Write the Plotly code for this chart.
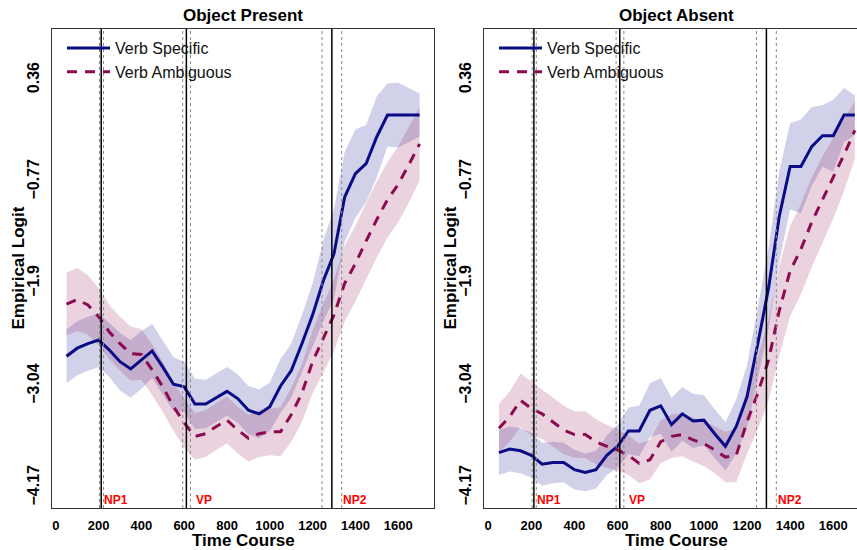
import plotly.graph_objects as go

# ---------------- data ----------------
time_ms = [50, 100, 150, 200, 250, 300, 350, 400, 450, 500, 550, 600, 650, 700, 750, 800, 850,
           900, 950, 1000, 1050, 1100, 1150, 1200, 1250, 1300, 1350, 1400, 1450, 1500, 1550,
           1600, 1650, 1700]

present_specific = [-2.71, -2.62, -2.57, -2.53, -2.64, -2.77, -2.85, -2.75, -2.65, -2.83,
                    -3.02, -3.05, -3.24, -3.24, -3.17, -3.10, -3.18, -3.31, -3.35, -3.27,
                    -3.04, -2.87, -2.57, -2.25, -1.87, -1.57, -0.94, -0.68, -0.57, -0.27,
                    -0.03, -0.03, -0.03, -0.03]
present_specific_ci = [0.30, 0.30, 0.30, 0.30, 0.30, 0.32, 0.32, 0.32, 0.30, 0.30,
                       0.30, 0.28, 0.28, 0.27, 0.27, 0.27, 0.27, 0.27, 0.27, 0.27,
                       0.30, 0.30, 0.32, 0.35, 0.45, 0.50, 0.50, 0.49, 0.43, 0.45,
                       0.35, 0.36, 0.30, 0.24]
present_ambiguous = [-2.13, -2.08, -2.14, -2.27, -2.44, -2.57, -2.68, -2.69, -2.86, -3.05,
                     -3.27, -3.45, -3.60, -3.57, -3.49, -3.42, -3.53, -3.62, -3.57, -3.55,
                     -3.55, -3.36, -3.12, -2.77, -2.51, -2.25, -1.90, -1.68, -1.43, -1.19,
                     -0.97, -0.80, -0.58, -0.35]
present_ambiguous_ci = [0.35, 0.35, 0.33, 0.32, 0.30, 0.30, 0.30, 0.28, 0.28, 0.28,
                        0.27, 0.27, 0.26, 0.26, 0.26, 0.26, 0.26, 0.26, 0.26, 0.26,
                        0.27, 0.30, 0.32, 0.35, 0.38, 0.40, 0.42, 0.42, 0.42, 0.42,
                        0.42, 0.42, 0.42, 0.41]

absent_specific = [-3.78, -3.74, -3.76, -3.81, -3.91, -3.89, -3.89, -3.97, -4.00, -3.97,
                   -3.81, -3.71, -3.54, -3.54, -3.31, -3.26, -3.47, -3.35, -3.43, -3.42,
                   -3.57, -3.71, -3.49, -3.16, -2.57, -1.95, -1.15, -0.60, -0.60, -0.38,
                   -0.26, -0.26, -0.03, -0.03]
absent_specific_ci = [0.25, 0.25, 0.25, 0.25, 0.24, 0.23, 0.22, 0.22, 0.21, 0.21,
                      0.22, 0.24, 0.26, 0.28, 0.30, 0.31, 0.30, 0.30, 0.30, 0.28,
                      0.27, 0.27, 0.30, 0.35, 0.40, 0.45, 0.50, 0.48, 0.52, 0.44,
                      0.34, 0.40, 0.30, 0.22]
absent_ambiguous = [-3.51, -3.38, -3.20, -3.29, -3.35, -3.44, -3.53, -3.58, -3.58, -3.66,
                    -3.71, -3.75, -3.81, -3.90, -3.86, -3.66, -3.60, -3.58, -3.64, -3.68,
                    -3.75, -3.83, -3.81, -3.44, -3.12, -2.75, -2.20, -1.76, -1.52, -1.22,
                    -0.97, -0.73, -0.47, -0.20]
absent_ambiguous_ci = [0.27, 0.28, 0.30, 0.30, 0.28, 0.27, 0.27, 0.26, 0.26, 0.25,
                       0.24, 0.23, 0.22, 0.22, 0.22, 0.24, 0.24, 0.24, 0.24, 0.25,
                       0.26, 0.28, 0.30, 0.35, 0.40, 0.45, 0.50, 0.50, 0.50, 0.50,
                       0.48, 0.45, 0.40, 0.32]

# word onsets (mean and spread) in ms
region_labels = ["NP1", "VP", "NP2"]
onset_mean = [212, 610, 1290]
onset_low = [204, 593, 1244]
onset_high = [223, 629, 1336]
label_x = [215, 645, 1335]

x_ticks = [0, 200, 400, 600, 800, 1000, 1200, 1400, 1600]
y_ticks = [-4.17, -3.04, -1.9, -0.77, 0.36]
y_tick_text = ["\u22124.17", "\u22123.04", "\u22121.9", "\u22120.77", "0.36"]

series_names = ["Verb Specific", "Verb Ambiguous"]
panel_titles = ["Object Present", "Object Absent"]

# ---------------- styles ----------------
FONT = "Liberation Sans, Arial, Helvetica, sans-serif"
BLUE = "#0b0b86"
BLUE_FILL = "rgba(0,0,139,0.18)"
PINK = "#8b0a50"
PINK_FILL = "rgba(139,10,80,0.18)"

fig = go.Figure()

panels = [
    ("x", "y", "legend", present_specific, present_specific_ci, present_ambiguous, present_ambiguous_ci),
    ("x2", "y2", "legend2", absent_specific, absent_specific_ci, absent_ambiguous, absent_ambiguous_ci),
]

for xa, ya, lg, vs, vs_ci, va, va_ci in panels:
    for vals, ci, fill in ((vs, vs_ci, BLUE_FILL), (va, va_ci, PINK_FILL)):
        upper = [v + c for v, c in zip(vals, ci)]
        lower = [v - c for v, c in zip(vals, ci)]
        fig.add_trace(go.Scatter(
            x=time_ms + time_ms[::-1], y=upper + lower[::-1],
            fill="toself", fillcolor=fill, line=dict(width=0), mode="lines",
            hoverinfo="skip", showlegend=False, xaxis=xa, yaxis=ya))
    fig.add_trace(go.Scatter(
        x=time_ms, y=vs, mode="lines", name=series_names[0],
        line=dict(color=BLUE, width=3), xaxis=xa, yaxis=ya, legend=lg))
    fig.add_trace(go.Scatter(
        x=time_ms, y=va, mode="lines", name=series_names[1],
        line=dict(color=PINK, width=3, dash="10px,8px"), xaxis=xa, yaxis=ya, legend=lg))

shapes = []
annotations = []
for xa, ya in (("x", "y"), ("x2", "y2")):
    for m, lo, hi in zip(onset_mean, onset_low, onset_high):
        shapes.append(dict(type="line", xref=xa, yref=ya + " domain", x0=m, x1=m, y0=0, y1=1,
                           line=dict(color="black", width=1.5), layer="above"))
        for d in (lo, hi):
            shapes.append(dict(type="line", xref=xa, yref=ya + " domain", x0=d, x1=d, y0=0, y1=1,
                               line=dict(color="#8a8a8a", width=1, dash="3px,3px"), layer="above"))
    for lab, lx in zip(region_labels, label_x):
        annotations.append(dict(text="<b>" + lab + "</b>", x=lx, y=0.017, xref=xa, yref=ya + " domain",
                                xanchor="left", yanchor="middle", showarrow=False,
                                font=dict(family=FONT, size=12, color="#ff0000")))

W, H = 857, 550
top, bottom = 29, 508
PH = bottom - top
left_dom = [52 / W, 433.7 / W]
right_dom = [484.3 / W, 1.0]

# panel titles and axis titles
for i, (xa, ylab_px) in enumerate((("x", 18), ("x2", 450))):
    annotations.append(dict(text="<b>" + panel_titles[i] + "</b>", x=875, xref=xa,
                            y=1 + (top - 16) / PH, yref="paper", xanchor="center", yanchor="middle",
                            showarrow=False, font=dict(family=FONT, size=17, color="black")))
    annotations.append(dict(text="<b>Time Course</b>", x=875, xref=xa, y=-(540 - bottom) / PH,
                            yref="paper", xanchor="center", yanchor="middle", showarrow=False,
                            font=dict(family=FONT, size=17, color="black")))
    annotations.append(dict(text="<b>Empirical Logit</b>", x=ylab_px / W, xref="paper", y=0.5,
                            yref="paper", xanchor="center", yanchor="middle", textangle=-90,
                            showarrow=False, font=dict(family=FONT, size=17, color="black")))

xax = dict(range=[-18, 1766], tickvals=x_ticks, ticktext=[str(t) for t in x_ticks],
           showgrid=False, zeroline=False, showline=True, mirror=True, linecolor="#333",
           linewidth=1, ticks="", automargin=False,
           tickfont=dict(family=FONT, size=13, color="black", weight="bold"),
           ticklabelstandoff=5)
yax = dict(range=[-4.396, 0.927], tickvals=y_ticks, ticktext=y_tick_text, tickangle=-90,
           showgrid=False, zeroline=False, showline=True, linecolor="#333", linewidth=1,
           ticks="", automargin=False,
           tickfont=dict(family=FONT, size=16, color="black", weight="bold"),
           ticklabelstandoff=6)

legend_common = dict(xanchor="left", yanchor="top", bgcolor="rgba(0,0,0,0)", itemwidth=43,
                     font=dict(family=FONT, size=16, color="#111"), tracegroupgap=0)

fig.update_layout(
    width=W, height=H,
    margin=dict(l=0, r=0, t=top, b=H - bottom, pad=0, autoexpand=False),
    paper_bgcolor="white", plot_bgcolor="white",
    font=dict(family=FONT, color="black"),
    xaxis=dict(xax, domain=left_dom, anchor="y"),
    yaxis=dict(yax, domain=[0, 1], anchor="x", mirror=True),
    xaxis2=dict(xax, domain=right_dom, anchor="y2", range=[-18, 1710]),
    yaxis2=dict(yax, domain=[0, 1], anchor="x2", mirror=False),
    legend=dict(legend_common, x=62 / W, y=1 - 2 / PH),
    legend2=dict(legend_common, x=494 / W, y=1 - 2 / PH),
    shapes=shapes, annotations=annotations,
    showlegend=True,
)

fig.write_html("out.html", config={"displayModeBar": False},
               post_script="document.body.style.margin='0';document.body.style.overflow='hidden';")
